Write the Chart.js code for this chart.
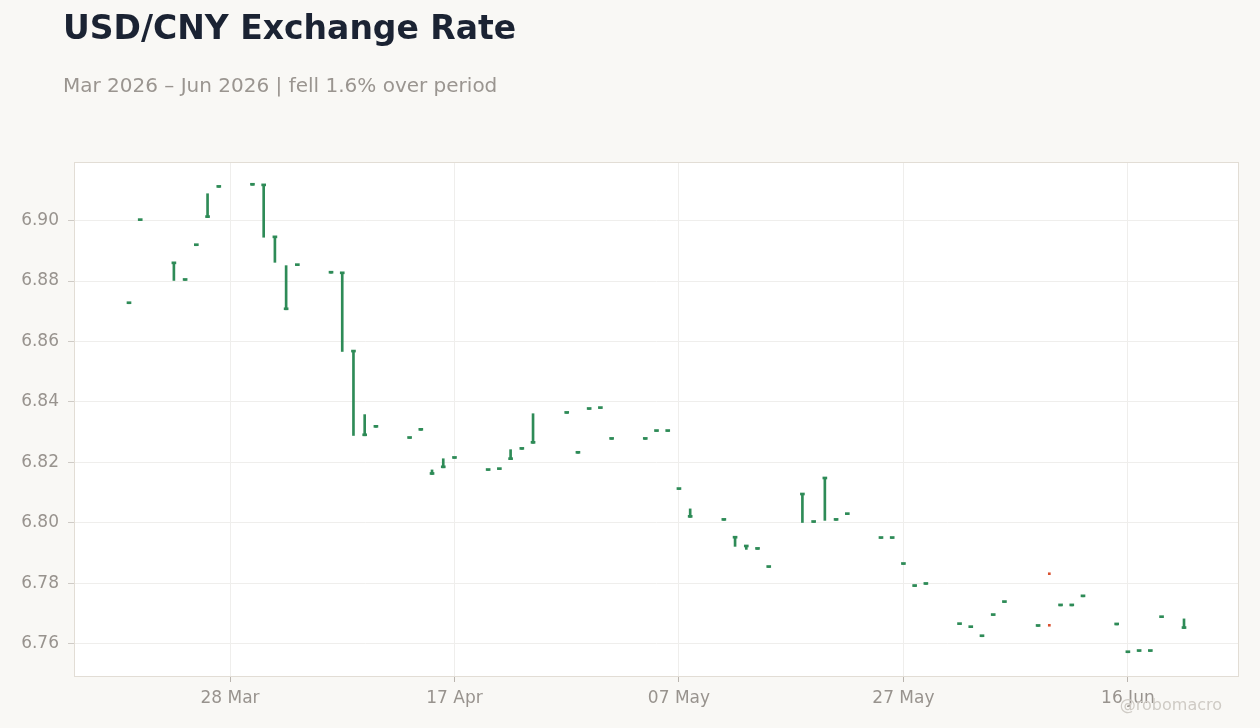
<!doctype html>
<html lang="en">
<head>
<meta charset="utf-8">
<title>USD/CNY Exchange Rate</title>
<style>
  html, body { margin: 0; padding: 0; background: #f9f8f5; }
  body { width: 1260px; height: 728px; position: relative; overflow: hidden; font-family: 'DejaVu Sans', sans-serif; }
  #title { position: absolute; left: 63px; top: 11px; font-size: 33px; line-height: 1; font-weight: bold; color: #1b2333; white-space: nowrap; }
  #subtitle { position: absolute; left: 63px; top: 75px; font-size: 20px; line-height: 1; color: #9a9590; white-space: nowrap; }
  #credit { position: absolute; right: 38px; top: 697px; font-size: 16px; line-height: 1; color: #cfcbc5; white-space: nowrap; }
  #wrap { position: absolute; left: 0; top: 0; width: 1260px; height: 728px; }
</style>
</head>
<body>
<div id="wrap"><canvas id="chart" width="1260" height="728"></canvas></div>
<div id="title">USD/CNY Exchange Rate</div>
<div id="subtitle">Mar 2026 – Jun 2026 | fell 1.6% over period</div>
<div id="credit">@robomacro</div>

<script src="https://cdn.jsdelivr.net/npm/chart.js"></script>
<script>
const dates = [
  '2026-03-19', '2026-03-20',
  '2026-03-23', '2026-03-24', '2026-03-25', '2026-03-26', '2026-03-27',
  '2026-03-30', '2026-03-31', '2026-04-01', '2026-04-02', '2026-04-03',
  '2026-04-06', '2026-04-07', '2026-04-08', '2026-04-09', '2026-04-10',
  '2026-04-13', '2026-04-14', '2026-04-15', '2026-04-16', '2026-04-17',
  '2026-04-20', '2026-04-21', '2026-04-22', '2026-04-23', '2026-04-24',
  '2026-04-27', '2026-04-28', '2026-04-29', '2026-04-30', '2026-05-01',
  '2026-05-04', '2026-05-05', '2026-05-06', '2026-05-07', '2026-05-08',
  '2026-05-11', '2026-05-12', '2026-05-13', '2026-05-14', '2026-05-15',
  '2026-05-18', '2026-05-19', '2026-05-20', '2026-05-21', '2026-05-22',
  '2026-05-25', '2026-05-26', '2026-05-27', '2026-05-28', '2026-05-29',
  '2026-06-01', '2026-06-02', '2026-06-03', '2026-06-04', '2026-06-05',
  '2026-06-08', '2026-06-09', '2026-06-10', '2026-06-11', '2026-06-12',
  '2026-06-15', '2026-06-16', '2026-06-17', '2026-06-18', '2026-06-19',
  '2026-06-21'
]

const open = [
  6.8725, 6.9000,
  6.8857, 6.8802, 6.8917, 6.9010, 6.9110,
  6.9117, 6.9115, 6.8943, 6.8705, 6.8851,
  6.8826, 6.8824, 6.8565, 6.8288, 6.8316,
  6.8279, 6.8306, 6.8160, 6.8182, 6.8213,
  6.8173, 6.8176, 6.8209, 6.8243, 6.8263,
  6.8362, 6.8230, 6.8375, 6.8378, 6.8276,
  6.8276, 6.8302, 6.8302, 6.8110, 6.8018,
  6.8008, 6.7949, 6.7920, 6.7912, 6.7852,
  6.8092, 6.8001, 6.8145, 6.8008, 6.8027,
  6.7948, 6.7948, 6.7862, 6.7789, 6.7796,
  6.7663, 6.7653, 6.7623, 6.7693, 6.7736,
  6.7657, 6.7835, 6.7725, 6.7725, 6.7755,
  6.7662, 6.7570, 6.7574, 6.7574, 6.7686,
  6.7650
]

const high = [
  6.8725, 6.9000,
  6.8859, 6.8802, 6.8917, 6.9089, 6.9110,
  6.9117, 6.9117, 6.8945, 6.8851, 6.8851,
  6.8826, 6.8826, 6.8567, 6.8358, 6.8316,
  6.8279, 6.8306, 6.8175, 6.8212, 6.8213,
  6.8173, 6.8176, 6.8242, 6.8243, 6.8361,
  6.8362, 6.8230, 6.8375, 6.8378, 6.8276,
  6.8276, 6.8302, 6.8302, 6.8110, 6.8046,
  6.8008, 6.7951, 6.7922, 6.7912, 6.7852,
  6.8094, 6.8001, 6.8147, 6.8008, 6.8027,
  6.7948, 6.7948, 6.7862, 6.7794, 6.7796,
  6.7663, 6.7653, 6.7623, 6.7693, 6.7736,
  6.7657, 6.7835, 6.7725, 6.7725, 6.7755,
  6.7662, 6.7570, 6.7574, 6.7574, 6.7686,
  6.7682
]

const low = [
  6.8725, 6.9000,
  6.8802, 6.8802, 6.8917, 6.9010, 6.9110,
  6.9117, 6.8945, 6.8862, 6.8705, 6.8851,
  6.8826, 6.8567, 6.8289, 6.8288, 6.8316,
  6.8279, 6.8306, 6.8160, 6.8182, 6.8213,
  6.8173, 6.8176, 6.8209, 6.8243, 6.8263,
  6.8362, 6.8230, 6.8375, 6.8378, 6.8276,
  6.8276, 6.8302, 6.8302, 6.8110, 6.8018,
  6.8008, 6.7922, 6.7912, 6.7912, 6.7852,
  6.8001, 6.8001, 6.8008, 6.8008, 6.8027,
  6.7948, 6.7948, 6.7862, 6.7789, 6.7796,
  6.7663, 6.7653, 6.7623, 6.7693, 6.7736,
  6.7657, 6.7657, 6.7725, 6.7725, 6.7755,
  6.7662, 6.7570, 6.7574, 6.7574, 6.7686,
  6.7650
]

const close = [
  6.8725, 6.9000,
  6.8859, 6.8802, 6.8917, 6.9012, 6.9110,
  6.9117, 6.9117, 6.8945, 6.8707, 6.8851,
  6.8826, 6.8826, 6.8567, 6.8290, 6.8316,
  6.8279, 6.8306, 6.8162, 6.8184, 6.8213,
  6.8173, 6.8176, 6.8211, 6.8243, 6.8265,
  6.8362, 6.8230, 6.8375, 6.8378, 6.8276,
  6.8276, 6.8302, 6.8302, 6.8110, 6.8020,
  6.8008, 6.7951, 6.7922, 6.7912, 6.7852,
  6.8094, 6.8001, 6.8147, 6.8008, 6.8027,
  6.7948, 6.7948, 6.7862, 6.7791, 6.7796,
  6.7663, 6.7653, 6.7623, 6.7693, 6.7736,
  6.7657, 6.7657, 6.7725, 6.7725, 6.7755,
  6.7662, 6.7570, 6.7574, 6.7574, 6.7686,
  6.7652
]

const tickDates = ['2026-03-28', '2026-04-17', '2026-05-07', '2026-05-27', '2026-06-16']
const tickLabels = ['28 Mar', '17 Apr', '07 May', '27 May', '16 Jun']

const yMin = 6.7493
const yMax = 6.9194

const GREEN = '#2e8b57'
const RED = '#d9502f'
const TEXT = '#98938e'
const GRID = '#efeeec'
const FONT = { family: 'DejaVu Sans', size: 17 }

// day number from an ISO date
const day = (s) => Date.parse(s + 'T00:00:00Z') / 864e5
const tickDays = tickDates.map(day)
const up = close.map((c, i) => c >= open[i])

const plotFrame = {
  id: 'plotFrame',
  beforeDraw(chart) {
    const { ctx, chartArea: a } = chart
    ctx.save()
    ctx.fillStyle = '#ffffff'
    ctx.fillRect(a.left, a.top, a.right - a.left, a.bottom - a.top)
    ctx.restore()
  },
  afterDraw(chart) {
    const { ctx, chartArea: a } = chart
    ctx.save()
    ctx.strokeStyle = '#e2ddd5'
    ctx.lineWidth = 1
    ctx.strokeRect(a.left + 0.5, a.top + 0.5, a.right - a.left - 1, a.bottom - a.top)
    ctx.restore()
  }
}

new Chart(document.getElementById('chart'), {
  type: 'bar',
  data: {
    datasets: [
      {
        label: 'range',
        data: dates.map((d, i) => ({ x: day(d), y: [low[i], high[i]] })),
        backgroundColor: (c) => (up[c.dataIndex] ? GREEN : 'rgba(0,0,0,0)'),
        barThickness: 2,
        grouped: false,
        order: 2
      },
      {
        label: 'up',
        data: dates.map((d, i) => ({ x: day(d), y: up[i] ? [open[i], close[i]] : null })),
        backgroundColor: GREEN,
        barThickness: 4,
        minBarLength: 2,
        grouped: false,
        order: 1
      },
      {
        label: 'down',
        data: dates.map((d, i) => ({ x: day(d), y: up[i] ? null : [close[i], open[i]] })),
        backgroundColor: 'rgba(0,0,0,0)',
        borderColor: RED,
        borderWidth: { top: 2, bottom: 2, left: 0, right: 0 },
        borderSkipped: false,
        barThickness: 3,
        grouped: false,
        order: 1
      }
    ]
  },
  options: {
    responsive: false,
    animation: false,
    layout: { padding: { top: 162, right: 21, bottom: 0, left: 0 } },
    plugins: {
      legend: { display: false },
      tooltip: { enabled: false }
    },
    scales: {
      x: {
        type: 'linear',
        min: day(dates[0]) - 4.9,
        max: day(dates[dates.length - 1]) + 4.9,
        offset: false,
        border: { display: false },
        grid: { color: GRID, offset: false, tickLength: 6, tickColor: '#bab5af' },
        ticks: {
          font: FONT,
          color: TEXT,
          padding: 6,
          maxRotation: 0,
          autoSkip: false,
          callback: (v) => tickLabels[tickDays.indexOf(v)] ?? ''
        },
        afterBuildTicks: (s) => {
          s.ticks = tickDays.map((v) => ({ value: v }))
        },
        afterFit: (s) => {
          s.height = 52
        }
      },
      y: {
        type: 'linear',
        min: yMin,
        max: yMax,
        beginAtZero: false,
        border: { display: false },
        grid: { color: GRID, tickLength: 6, tickColor: '#cfcbc6' },
        ticks: {
          font: FONT,
          color: TEXT,
          padding: 9,
          stepSize: 0.02,
          includeBounds: false,
          callback: (v) => v.toFixed(2)
        },
        afterFit: (s) => {
          s.width = 74
        }
      }
    }
  },
  plugins: [plotFrame]
})
</script>
</body>
</html>
